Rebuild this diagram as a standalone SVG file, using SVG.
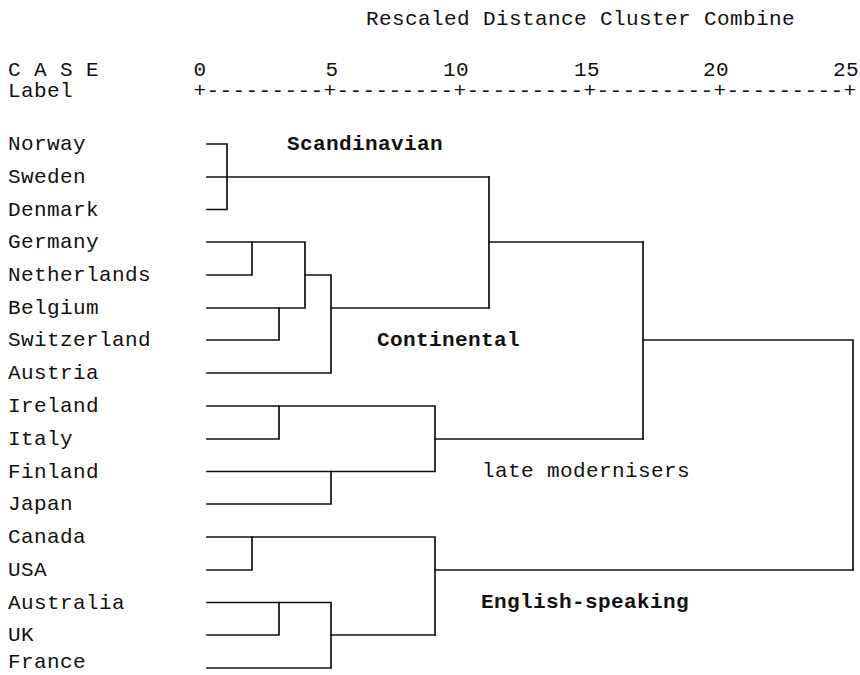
<svg xmlns="http://www.w3.org/2000/svg" width="860" height="675" viewBox="0 0 860 675">
  <style>
    .t { font-family: "Liberation Mono", "Courier New", monospace; font-size: 21px; letter-spacing: 0.4px; fill: #111; }
    .b { font-weight: bold; }
    .ln { fill: none; stroke: #111; stroke-width: 1.7; stroke-linecap: square; }
  </style>
  <rect width="860" height="675" fill="#fff"/>

  <!-- Header and distance scale -->
  <g id="header">
    <text class="t" x="366" y="25">Rescaled Distance Cluster Combine</text>
    <text class="t" x="8" y="76">C A S E</text>
    <text class="t" x="8" y="97">Label</text>
    <g text-anchor="middle">
      <text class="t" x="200" y="76">0</text>
      <text class="t" x="332" y="76">5</text>
      <text class="t" x="456" y="76">10</text>
      <text class="t" x="587" y="76">15</text>
      <text class="t" x="716" y="76">20</text>
      <text class="t" x="846" y="76">25</text>
    </g>
    <text class="t" x="193.5" y="97">+---------+---------+---------+---------+---------+</text>
  </g>

  <!-- Case labels -->
  <g id="norway"><text class="t" x="8" y="150">Norway</text></g>
  <g id="sweden"><text class="t" x="8" y="183">Sweden</text></g>
  <g id="denmark"><text class="t" x="8" y="215.5">Denmark</text></g>
  <g id="germany"><text class="t" x="8" y="248">Germany</text></g>
  <g id="netherlands"><text class="t" x="8" y="281">Netherlands</text></g>
  <g id="belgium"><text class="t" x="8" y="314">Belgium</text></g>
  <g id="switzerland"><text class="t" x="8" y="346">Switzerland</text></g>
  <g id="austria"><text class="t" x="8" y="379">Austria</text></g>
  <g id="ireland"><text class="t" x="8" y="412">Ireland</text></g>
  <g id="italy"><text class="t" x="8" y="445">Italy</text></g>
  <g id="finland"><text class="t" x="8" y="477.5">Finland</text></g>
  <g id="japan"><text class="t" x="8" y="510">Japan</text></g>
  <g id="canada"><text class="t" x="8" y="543">Canada</text></g>
  <g id="usa"><text class="t" x="8" y="576">USA</text></g>
  <g id="australia"><text class="t" x="8" y="608.5">Australia</text></g>
  <g id="uk"><text class="t" x="8" y="641">UK</text></g>
  <g id="france"><text class="t" x="8" y="668">France</text></g>

  <!-- Cluster names -->
  <g id="scandinavian"><text class="t b" x="287" y="150">Scandinavian</text></g>
  <g id="continental"><text class="t b" x="377" y="346">Continental</text></g>
  <g id="late-modernisers"><text class="t" x="482" y="477">late modernisers</text></g>
  <g id="english-speaking"><text class="t b" x="481" y="608">English-speaking</text></g>

  <!-- Dendrogram links -->
  <g id="connectors" class="ln">
    <!-- Scandinavian -->
    <path d="M207 144H227V209.5H207"/>
    <path d="M207 177H489"/>
    <!-- Continental -->
    <path d="M207 242H305V308H207"/>
    <path d="M207 275H252V242"/>
    <path d="M207 340H279V308"/>
    <path d="M305 275H331V373H207"/>
    <path d="M331 308H489"/>
    <path d="M489 177V308"/>
    <path d="M489 242H643"/>
    <!-- late modernisers -->
    <path d="M207 406H435V471.5H207"/>
    <path d="M207 439H279V406"/>
    <path d="M207 504H331V471.5"/>
    <path d="M435 439H643"/>
    <path d="M643 242V439"/>
    <path d="M643 340H853V570"/>
    <!-- English-speaking -->
    <path d="M207 537H435V635"/>
    <path d="M207 570H252V537"/>
    <path d="M207 602.5H331V668H207"/>
    <path d="M207 635H279V602.5"/>
    <path d="M331 635H435"/>
    <path d="M435 570H853"/>
  </g>
</svg>
